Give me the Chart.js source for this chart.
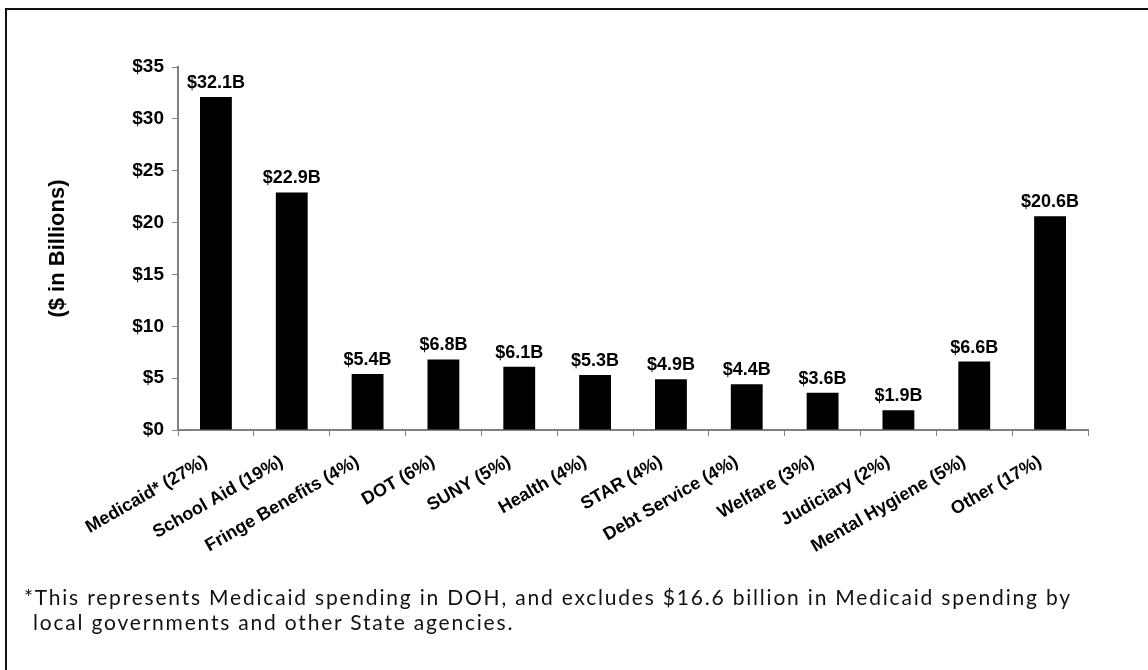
<!DOCTYPE html>
<html>
<head>
<meta charset="utf-8">
<script src="https://cdn.jsdelivr.net/npm/chart.js@4.4.0/dist/chart.umd.min.js"></script>
<style>
  html, body { margin: 0; padding: 0; background: #fff; }
  #wrap { position: relative; width: 1148px; height: 670px; overflow: hidden; }
  #frame { position: absolute; left: 5px; top: 8px; width: 1200px; height: 700px; border: 2px solid #111; box-sizing: border-box; }
  #chart_canvas { position: absolute; left: 0; top: 0; }
  #note { position: absolute; left: 24px; top: 584px; font-family: Lato, "Open Sans", sans-serif; font-size: 21px; line-height: 25px; color: #111; letter-spacing: 1.8px; white-space: nowrap; }
  #note div + div { padding-left: 9px; }
</style>
</head>
<body>
<div id="wrap">
  <div id="frame"></div>
  <canvas id="chart_canvas" width="1148" height="670"></canvas>
  <div id="note">
    <div>*This represents Medicaid spending in DOH, and excludes $16.6 billion in Medicaid spending by</div>
    <div>local governments and other State agencies.</div>
  </div>
</div>
<script>
var categories = ['Medicaid* (27%)', 'School Aid (19%)', 'Fringe Benefits (4%)', 'DOT (6%)', 'SUNY (5%)',
  'Health (4%)', 'STAR (4%)', 'Debt Service (4%)', 'Welfare (3%)', 'Judiciary (2%)',
  'Mental Hygiene (5%)', 'Other (17%)'];
var spending = [32.1, 22.9, 5.4, 6.8, 6.1, 5.3, 4.9, 4.4, 3.6, 1.9, 6.6, 20.6];
var yTicks = [0, 5, 10, 15, 20, 25, 30, 35];

var FONT = '"Liberation Sans", Arial, sans-serif';
var AXIS = '#808080';

// value labels over each bar, e.g. "$32.1B"
var barLabels = {
  id: 'barLabels',
  afterDatasetsDraw: function(chart) {
    var ctx = chart.ctx;
    var meta = chart.getDatasetMeta(0);
    ctx.save();
    ctx.font = 'bold 18px ' + FONT;
    ctx.fillStyle = '#000';
    ctx.textAlign = 'center';
    ctx.textBaseline = 'bottom';
    for (var i = 0; i < meta.data.length; i++) {
      var bar = meta.data[i];
      ctx.fillText('$' + spending[i].toFixed(1) + 'B', bar.x, bar.y - 5);
    }
    ctx.restore();
  }
};

var ctx = document.getElementById('chart_canvas').getContext('2d');
var myChart = new Chart(ctx, {
  type: 'bar',
  data: {
    labels: categories,
    datasets: [{
      data: spending,
      backgroundColor: '#000',
      borderWidth: 0,
      barPercentage: 0.42,
      categoryPercentage: 1.0
    }]
  },
  options: {
    responsive: false,
    animation: false,
    layout: { padding: { left: 45, top: 67, right: 60, bottom: 0 } },
    plugins: { legend: { display: false }, tooltip: { enabled: false } },
    scales: {
      x: {
        grid: { display: true, drawOnChartArea: false, color: AXIS, tickLength: 6, offset: true },
        border: { color: AXIS, width: 2 },
        ticks: {
          color: '#000',
          font: { family: FONT, size: 18, weight: 'bold' },
          minRotation: 30,
          maxRotation: 30,
          autoSkip: false,
          padding: 15,
          labelOffset: -10
        },
        afterFit: function(scale) { scale.height = 240; }
      },
      y: {
        min: 0,
        max: 35,
        afterBuildTicks: function(scale) {
          scale.ticks = yTicks.map(function(v) { return { value: v }; });
        },
        grid: { display: true, drawOnChartArea: false, color: AXIS, tickLength: 6 },
        border: { color: AXIS, width: 2 },
        ticks: {
          color: '#000',
          font: { family: FONT, size: 19, weight: 'bold' },
          padding: 8,
          callback: function(v) { return '$' + v; }
        },
        title: {
          display: true,
          text: '($ in Billions)',
          color: '#000',
          font: { family: FONT, size: 22, weight: 'bold' },
          padding: 0
        },
        afterFit: function(scale) { scale.width = 133; }
      }
    }
  },
  plugins: [barLabels]
});
</script>
</body>
</html>
